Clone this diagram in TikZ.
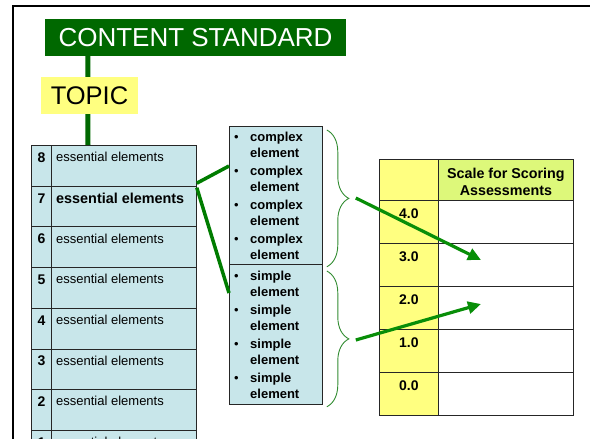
\documentclass[tikz,border=0pt]{standalone}
\usepackage{fontspec}
\setmainfont{Liberation Sans}
\usetikzlibrary{arrows.meta,decorations.pathreplacing,calc}
\definecolor{tblue}{RGB}{200,230,234}
\definecolor{tyellow}{RGB}{255,255,128}
\definecolor{hgreen}{RGB}{221,248,122}
\definecolor{csgreen}{RGB}{0,104,0}
\definecolor{lgreen}{RGB}{0,124,0}
\definecolor{agreen}{RGB}{8,142,8}
\definecolor{bgreen}{RGB}{50,140,50}
\begin{document}
\begin{tikzpicture}[x=1pt,y=-1pt,
  ncell/.style={draw=black!85,line width=0.8pt,fill=tblue,minimum width=20pt,minimum height=40.7pt,anchor=north west,inner sep=0pt},
  tcell/.style={ncell,minimum width=145pt},
  numtxt/.style={font=\bfseries\fontsize{14}{16}\selectfont,inner sep=0pt},
  esstxt/.style={font=\fontsize{13}{15}\selectfont,inner sep=0pt,anchor=west},
  mbox/.style={draw=black!85,line width=0.8pt,fill=tblue,minimum width=93pt,anchor=north west,inner sep=0pt},
  itm/.style={font=\bfseries\fontsize{13}{15}\selectfont,inner sep=0pt,anchor=west},
  bul/.style={font=\fontsize{13}{15}\selectfont,inner sep=0pt},
  bracestyle/.style={draw=bgreen,line width=0.9pt,decorate,decoration={brace,amplitude=22pt}},
  conn/.style={draw=lgreen,line width=3.5pt},
  arr/.style={draw=agreen,line width=3.2pt,-{Triangle[length=13pt,width=12pt]}},
  ycell/.style={draw=black!85,line width=0.8pt,fill=tyellow,minimum width=59pt,minimum height=43pt,anchor=north west,inner sep=0pt},
  wcell/.style={ycell,fill=white,minimum width=135pt},
  gcell/.style={ycell,fill=hgreen,minimum width=135pt,minimum height=41pt},
  rnum/.style={font=\bfseries\fontsize{14}{16}\selectfont,inner sep=0pt}]
\useasboundingbox (0,0) rectangle (590,439);
\clip (0,0) rectangle (590,439);
% frame
\draw[line width=2pt] (13,450) -- (13,6) -- (600,6);
% left table
\foreach \k in {1,...,8}{
  \pgfmathsetmacro\rtop{145+40.7*(8-\k)}
  \node[ncell] (n\k) at (31,\rtop) {};
  \node[tcell] (t\k) at (51,\rtop) {};
  \node[numtxt] (m\k) at ($(n\k.north)+(0,12.5)$) {\k};
}
\foreach \k in {1,2,3,4,5,6,8}{
  \node[esstxt] (l\k) at ($(t\k.north west)+(5,12)$) {essential elements};
}
\node[esstxt,font=\bfseries\fontsize{14.4}{16}\selectfont] (l7) at ($(t7.north west)+(5,12.5)$) {essential elements};
% content standard and topic
\node[fill=csgreen,text=white,minimum width=301pt,minimum height=37pt,inner sep=0pt,font=\fontsize{26}{30}\selectfont] (cs) at (195.5,37.5) {CONTENT STANDARD};
\draw[draw=csgreen,line width=5pt] ($(cs.south west)+(43,0)$) -- ($(t8.north west)+(37,0)$);
\node[fill=tyellow,minimum width=97pt,minimum height=37pt,inner sep=0pt,font=\fontsize{25.5}{30}\selectfont] (tp) at (89.5,95.5) {TOPIC};
% middle box
\node[mbox,minimum height=138pt] (mc) at (229,126) {};
\node[mbox,minimum height=140pt] (ms) at (229,264) {};
\foreach \i/\y in {1/138,2/172,3/206,4/240}{
  \node[bul] (bc\i) at (236.5,\y) {•};
  \node[itm] (ca\i) at (250,\y) {complex};
  \node[itm] (cb\i) at (250,\y+15) {element};
}
\foreach \i/\y in {1/277,2/311,3/345,4/379}{
  \node[bul] (bs\i) at (236.5,\y) {•};
  \node[itm] (sa\i) at (250,\y) {simple};
  \node[itm] (sb\i) at (250,\y+15) {element};
}
% connectors from row 7
\draw[conn] ($(t7.north east)+(0,-2.5)$) -- ($(mc.north west)+(0,40)$);
\draw[conn] ($(t7.north east)+(0,2)$) -- ($(ms.north west)+(0,29)$);
% braces
\draw[bracestyle] ($(mc.north east)+(4,4)$) -- ($(mc.south east)+(4,2)$);
\draw[bracestyle] ($(ms.north east)+(4,7)$) -- ($(ms.south east)+(4,2)$);
\coordinate (bt1) at ($(mc.north east)+(33,72)$);
\coordinate (bt2) at ($(ms.north east)+(33,76)$);
% right table
\node[ycell,minimum height=41pt] (h0) at (379,159) {};
\node[gcell] (h1) at (438,159) {};
\node[align=center,inner sep=0pt,font=\bfseries\fontsize{14.3}{17}\selectfont] (ht) at ($(h1.center)+(0,2)$) {Scale for Scoring\\Assessments};
\foreach \k/\v in {0/4.0,1/3.0,2/2.0,3/1.0,4/0.0}{
  \pgfmathsetmacro\rtop{200+43*\k}
  \node[ycell] (s\k) at (379,\rtop) {};
  \node[wcell] (w\k) at (438,\rtop) {};
  \node[rnum] (v\k) at ($(s\k.north)+(0,14)$) {\v};
}
\coordinate (e1) at ($(w1.north west)+(43,17)$);
\coordinate (e2) at ($(w2.north west)+(43,18)$);
% arrows
\draw[arr] (bt1) -- (e1);
\draw[arr] (bt2) -- (e2);
\end{tikzpicture}
\end{document}
